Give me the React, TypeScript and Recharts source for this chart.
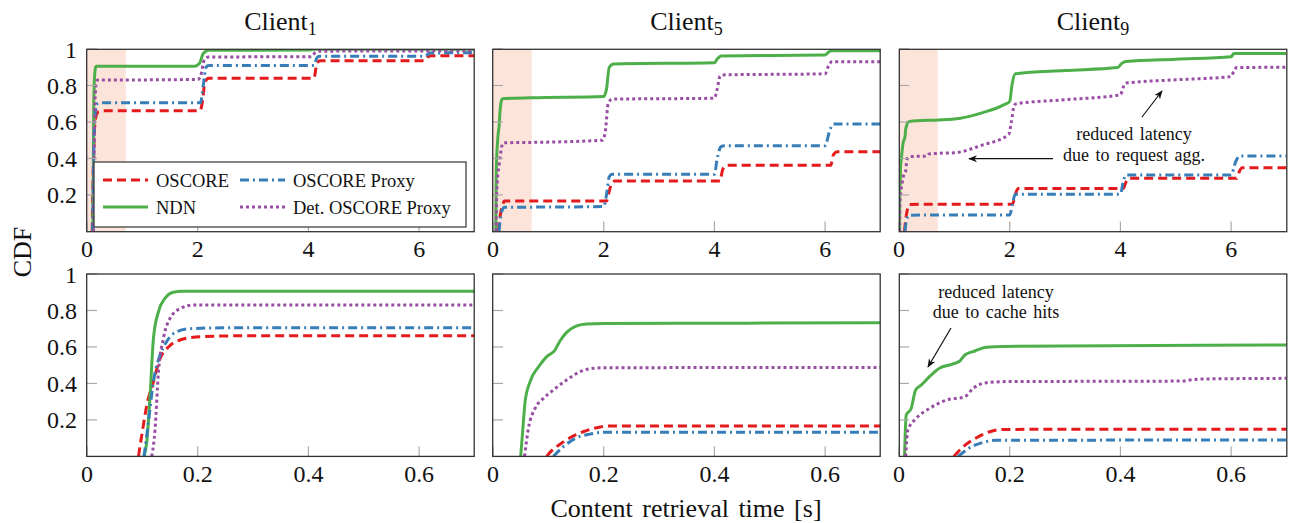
import React from "react";
import { LineChart, Line, XAxis, YAxis, ReferenceArea } from "recharts";

const FONT = "'Liberation Serif', 'Times New Roman', serif";

// series styling (pgfplots Set1-like colours)
const SERIES = [
  { key: "oscore", name: "OSCORE", color: "#e41a1c", dash: "9 5" },
  { key: "ndn", name: "NDN", color: "#4daf4a", dash: undefined },
  { key: "proxy", name: "OSCORE Proxy", color: "#377eb8", dash: "9 4 2 4" },
  { key: "det", name: "Det. OSCORE Proxy", color: "#984ea3", dash: "3 3" },
];

const CLIENTS = ["1", "5", "9"];
const TOP_X_TICKS = [0, 2, 4, 6];
const ZOOM_X_TICKS = [0, 0.2, 0.4, 0.6];
const Y_TICKS = [0.2, 0.4, 0.6, 0.8, 1];
const SHADE = [0, 0.7];

// [time (s), CDF]
const c1Oscore = [[0.093,0],[0.099,0.117],[0.108,0.28],[0.12,0.41],[0.132,0.537],[0.147,0.6],[0.168,0.638],[0.204,0.656],[0.3,0.662],[2.04,0.662],[2.09,0.72],[2.13,0.82],[2.2,0.84],[4.1,0.84],[4.14,0.9],[4.2,0.935],[6.1,0.935],[6.15,0.955],[6.22,0.963],[7,0.963]];
const c1Ndn = [[0.103,0],[0.108,0.08],[0.114,0.336],[0.12,0.647],[0.129,0.793],[0.141,0.867],[0.156,0.9],[0.171,0.905],[0.3,0.906],[1.95,0.906],[2.03,0.92],[2.1,0.975],[2.2,0.993],[4.0,0.994],[4.1,0.998],[7,0.998]];
const c1Proxy = [[0.103,0],[0.111,0.19],[0.12,0.41],[0.132,0.556],[0.144,0.63],[0.162,0.684],[0.186,0.7],[0.25,0.705],[2.05,0.705],[2.1,0.8],[2.15,0.9],[2.2,0.91],[4.1,0.91],[4.15,0.95],[4.2,0.96],[6.1,0.96],[6.2,0.978],[7,0.98]];
const c1Det = [[0.117,0],[0.123,0.15],[0.129,0.46],[0.138,0.647],[0.15,0.757],[0.168,0.81],[0.192,0.83],[0.3,0.83],[2.0,0.833],[2.05,0.85],[2.12,0.94],[2.2,0.956],[4.05,0.958],[4.12,0.98],[4.2,0.988],[7,0.99]];

const c5Oscore = [[0.097,0],[0.1,0.012],[0.115,0.053],[0.139,0.102],[0.163,0.135],[0.187,0.157],[0.205,0.166],[0.7,0.166],[2.05,0.167],[2.1,0.22],[2.15,0.27],[2.2,0.276],[4.1,0.276],[4.15,0.34],[4.22,0.362],[6.1,0.362],[6.15,0.42],[6.22,0.436],[7,0.436]];
const c5Ndn = [[0.05,0],[0.054,0.154],[0.058,0.3],[0.067,0.41],[0.082,0.49],[0.097,0.547],[0.112,0.583],[0.121,0.633],[0.133,0.68],[0.151,0.715],[0.169,0.726],[0.2,0.728],[0.4,0.73],[0.7,0.733],[2.0,0.74],[2.05,0.78],[2.1,0.9],[2.18,0.918],[4.0,0.925],[4.05,0.945],[4.12,0.962],[6.0,0.967],[6.05,0.98],[6.12,0.99],[7,0.99]];
const c5Proxy = [[0.109,0],[0.127,0.053],[0.151,0.102],[0.175,0.122],[0.2,0.132],[0.7,0.133],[2.0,0.136],[2.05,0.2],[2.1,0.3],[2.15,0.313],[4.0,0.313],[4.05,0.4],[4.12,0.465],[4.18,0.47],[6.0,0.47],[6.08,0.55],[6.15,0.589],[7,0.589]];
const c5Det = [[0.057,0],[0.064,0.154],[0.076,0.263],[0.091,0.318],[0.109,0.364],[0.133,0.419],[0.157,0.464],[0.181,0.483],[0.205,0.486],[0.7,0.488],[1.98,0.5],[2.03,0.55],[2.08,0.7],[2.15,0.725],[4.0,0.73],[4.05,0.78],[4.1,0.85],[4.15,0.858],[6.0,0.864],[6.05,0.9],[6.12,0.93],[7,0.93]];

const c9Oscore = [[0.099,0],[0.116,0.053],[0.14,0.102],[0.164,0.135],[0.188,0.148],[0.7,0.149],[2.05,0.149],[2.1,0.2],[2.15,0.235],[4.05,0.235],[4.1,0.27],[4.15,0.291],[6.1,0.291],[6.15,0.33],[6.2,0.349],[7,0.349]];
const c9Ndn = [[0.01,0],[0.013,0.227],[0.022,0.263],[0.03,0.364],[0.04,0.391],[0.055,0.437],[0.073,0.483],[0.095,0.505],[0.11,0.523],[0.119,0.556],[0.137,0.578],[0.158,0.598],[0.188,0.603],[0.7,0.611],[1.0,0.616],[1.5,0.65],[1.9,0.695],[2.0,0.713],[2.04,0.8],[2.1,0.864],[3.0,0.882],[3.95,0.898],[4.02,0.92],[4.1,0.931],[5.0,0.944],[6.0,0.958],[6.05,0.975],[7,0.975]];
const c9Proxy = [[0.107,0],[0.128,0.048],[0.152,0.077],[0.176,0.088],[0.7,0.09],[2.0,0.09],[2.05,0.15],[2.1,0.204],[4.0,0.204],[4.05,0.27],[4.1,0.309],[6.0,0.309],[6.08,0.38],[6.15,0.413],[7,0.413]];
const c9Det = [[0.012,0],[0.016,0.144],[0.031,0.208],[0.055,0.263],[0.086,0.309],[0.119,0.327],[0.134,0.373],[0.158,0.404],[0.194,0.41],[0.507,0.413],[0.543,0.424],[0.7,0.428],[1.0,0.431],[1.5,0.473],[1.98,0.531],[2.03,0.6],[2.08,0.69],[2.12,0.7],[3.0,0.722],[4.0,0.749],[4.05,0.79],[4.1,0.813],[5.0,0.831],[6.0,0.849],[6.05,0.88],[6.1,0.898],[7,0.9]];

const DATA: Record<string, Record<string, number[][]>> = {
  "1": { oscore: c1Oscore, ndn: c1Ndn, proxy: c1Proxy, det: c1Det },
  "5": { oscore: c5Oscore, ndn: c5Ndn, proxy: c5Proxy, det: c5Det },
  "9": { oscore: c9Oscore, ndn: c9Ndn, proxy: c9Proxy, det: c9Det },
};

// plot-area geometry in page pixels
const COL_LEFT = [86.7, 492.7, 899.3];
const PLOT_W = 387.5;
const ROW_TOP = [49.3, 274];
const PLOT_H = 182.4;

const ML = 60, MR = 5, MT = 20, MB = 45;

const toPts = (a: number[][]) => a.map(([x, y]) => ({ x, y }));

function Panel({ client, col, row }: { client: string; col: number; row: number }) {
  const zoom = row === 1;
  const left = COL_LEFT[col];
  const top = ROW_TOP[row];
  const tickStyle = { fill: "#111", fontSize: 24, fontFamily: FONT };
  return (
    <div style={{ position: "absolute", left: left - ML, top: top - MT }}>
      <LineChart
        width={PLOT_W + ML + MR}
        height={PLOT_H + MT + MB}
        margin={{ top: MT, right: MR, bottom: 0, left: 0 }}
      >
        <XAxis
          type="number"
          dataKey="x"
          domain={zoom ? [0, 0.7] : [0, 7]}
          ticks={zoom ? ZOOM_X_TICKS : TOP_X_TICKS}
          interval={0}
          allowDataOverflow
          height={MB}
          axisLine={false}
          tickSize={-10}
          tickMargin={19}
          tickLine={{ stroke: "#aaa", strokeWidth: 1.2 }}
          tick={tickStyle}
        />
        <YAxis
          type="number"
          domain={[0, 1]}
          ticks={Y_TICKS}
          interval={0}
          allowDataOverflow
          width={ML}
          axisLine={false}
          tickSize={-10}
          tickMargin={20}
          tickLine={{ stroke: "#aaa", strokeWidth: 1.2 }}
          tick={tickStyle}
          tickFormatter={(v) => (col === 0 ? String(v) : "")}
        />
        {!zoom && (
          <ReferenceArea
            x1={SHADE[0]}
            x2={SHADE[1]}
            y1={0}
            y2={1}
            fill="#fde4da"
            fillOpacity={1}
            stroke="none"
          />
        )}
        {SERIES.map((s) => (
          <Line
            key={s.key}
            data={toPts(DATA[client][s.key])}
            dataKey="y"
            type="monotone"
            stroke={s.color}
            strokeWidth={3}
            strokeDasharray={s.dash}
            dot={false}
            activeDot={false}
            isAnimationActive={false}
          />
        ))}
      </LineChart>
    </div>
  );
}

function LegendBox() {
  const rows = [
    [SERIES[0], SERIES[2]],
    [SERIES[1], SERIES[3]],
  ];
  const colX = [103, 240];
  const rowY = [180, 207];
  return (
    <g>
      <rect x={94} y={162} width={372} height={65} fill="#fff" stroke="#333" strokeWidth={1.2} />
      {rows.map((r, ri) =>
        r.map((s, ci) => (
          <g key={s.key}>
            <line
              x1={colX[ci]}
              x2={colX[ci] + 45}
              y1={rowY[ri]}
              y2={rowY[ri]}
              stroke={s.color}
              strokeWidth={3}
              strokeDasharray={s.dash}
            />
            <text x={colX[ci] + 53} y={rowY[ri] + 6.5} fontSize={18.5} fontFamily={FONT} fill="#111">
              {s.name}
            </text>
          </g>
        ))
      )}
    </g>
  );
}

export default function App() {
  return (
    <div
      style={{
        position: "absolute",
        left: 0,
        top: 0,
        width: 1289,
        height: 523,
        background: "#fff",
        fontFamily: FONT,
        overflow: "hidden",
      }}
    >
      {[0, 1].map((row) =>
        CLIENTS.map((c, col) => <Panel key={`${row}-${c}`} client={c} col={col} row={row} />)
      )}
      <svg
        width={1289}
        height={523}
        style={{ position: "absolute", left: 0, top: 0, pointerEvents: "none" }}
      >
        <defs>
          <marker id="arr" viewBox="0 0 10 10" refX="9" refY="5" markerWidth="9" markerHeight="9" orient="auto-start-reverse" markerUnits="userSpaceOnUse">
            <path d="M0,1 L10,5 L0,9 L3,5 Z" fill="#111" />
          </marker>
        </defs>
        {[0, 1].map((row) =>
          COL_LEFT.map((l, col) => (
            <rect
              key={`b-${row}-${col}`}
              x={l}
              y={ROW_TOP[row]}
              width={PLOT_W}
              height={PLOT_H}
              fill="none"
              stroke="#333"
              strokeWidth={1.3}
            />
          ))
        )}
        {CLIENTS.map((c, col) => (
          <text
            key={`t-${c}`}
            x={COL_LEFT[col] + PLOT_W / 2}
            y={29.5}
            textAnchor="middle"
            fontSize={26}
            fontFamily={FONT}
            fill="#111"
          >
            Client
            <tspan fontSize={18} dy={5}>
              {c}
            </tspan>
          </text>
        ))}
        <text
          x={0}
          y={0}
          transform="translate(31,252) rotate(-90)"
          textAnchor="middle"
          fontSize={26}
          fontFamily={FONT}
          fill="#111"
        >
          CDF
        </text>
        <text x={686} y={517} textAnchor="middle" fontSize={26} fontFamily={FONT} fill="#111" wordSpacing={3}>
          Content retrieval time [s]
        </text>
        <LegendBox />
        {/* annotation: request aggregation */}
        <text x={1134} y={140} textAnchor="middle" fontSize={18} fontFamily={FONT} fill="#111" wordSpacing={2}>
          reduced latency
        </text>
        <text x={1134} y={161} textAnchor="middle" fontSize={18} fontFamily={FONT} fill="#111" wordSpacing={2}>
          due to request agg.
        </text>
        <line x1={1142} y1={117} x2={1162} y2={91} stroke="#111" strokeWidth={1.2} markerEnd="url(#arr)" />
        <line x1={1053} y1={158.7} x2={969} y2={158.7} stroke="#111" strokeWidth={1.2} markerEnd="url(#arr)" />
        {/* annotation: cache hits */}
        <text x={996} y={297.5} textAnchor="middle" fontSize={18} fontFamily={FONT} fill="#111" wordSpacing={2}>
          reduced latency
        </text>
        <text x={996} y={318} textAnchor="middle" fontSize={18} fontFamily={FONT} fill="#111" wordSpacing={2}>
          due to cache hits
        </text>
        <line x1={951} y1={328} x2={928} y2={367} stroke="#111" strokeWidth={1.2} markerEnd="url(#arr)" />
      </svg>
    </div>
  );
}
